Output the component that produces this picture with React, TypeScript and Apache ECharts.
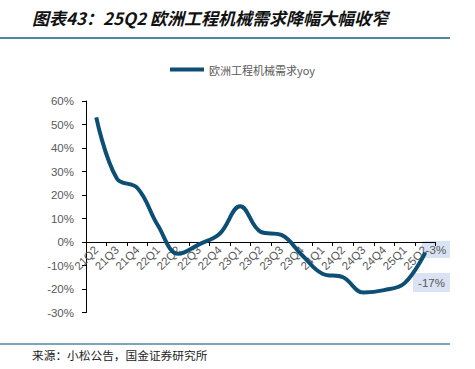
import React, { useEffect, useRef } from "react";
import * as echarts from "echarts";

const categories = ["21Q2","21Q3","21Q4","22Q1","22Q2","22Q3","22Q4","23Q1","23Q2","23Q3","23Q4","24Q1","24Q2","24Q3","24Q4","25Q1","25Q2"];
const yoyValues = [53, 27, 23, 7, -5, -1, 3.5, 15.2, 4.3, 3, -5.5, -13.5, -15, -21.5, -20.5, -17.5, -4.5];
const seriesName = "欧洲工程机械需求yoy";
const titleText = "图表43：25Q2 欧洲工程机械需求降幅大幅收窄";
const sourceText = "来源：小松公告，国金证券研究所";
const annotations = ["-3%", "-17%"];

export default function App() {
  const ref = useRef<HTMLDivElement>(null);
  useEffect(() => {
    document.body.style.margin = "0";
    const chart = echarts.init(ref.current!, null, { renderer: "svg" });
    const gray = "#595959";
    const font = "Liberation Sans, Arial, sans-serif";
    chart.setOption({
      animation: false,
      grid: { left: 86, right: 39.5, top: 101, bottom: 56.5, containLabel: false },
      legend: {
        data: [seriesName],
        top: 64,
        left: 170,
        padding: 0,
        itemWidth: 34,
        itemHeight: 14,
        itemGap: 4,
        icon: "path://M0,0 L34,0 L34,4 L0,4 Z",
        textStyle: { color: gray, fontSize: 11, fontFamily: "Noto Sans CJK SC, sans-serif" },
      },
      xAxis: {
        type: "category",
        data: categories,
        boundaryGap: true,
        position: "bottom",
        offset: -70.5,
        axisLine: { onZero: false, lineStyle: { color: "#000", width: 1 } },
        axisTick: { show: true, length: 4, lineStyle: { color: "#000" } },
        axisLabel: { rotate: 45, interval: 0, color: gray, fontSize: 11.5, fontFamily: font, margin: 6 },
      },
      yAxis: {
        type: "value",
        min: -30,
        max: 60,
        interval: 10,
        splitLine: { show: false },
        axisLine: { show: true, lineStyle: { color: "#000", width: 1 } },
        axisTick: { show: true, length: 4, lineStyle: { color: "#000" } },
        axisLabel: { formatter: "{value}%", color: gray, fontSize: 11.5, fontFamily: font, margin: 12 },
      },
      series: [
        {
          name: seriesName,
          type: "line",
          data: yoyValues,
          smooth: 0.4,
          symbol: "none",
          lineStyle: { color: "#0d4f74", width: 4 },
          itemStyle: { color: "#0d4f74" },
        },
      ],
      graphic: [
        {
          type: "text",
          left: 32,
          top: 9,
          style: {
            text: titleText,
            fontSize: 17,
            fontWeight: "bold",
            fontStyle: "italic",
            fill: "#111",
            fontFamily: "Noto Sans CJK SC, sans-serif",
          },
        },
        { type: "line", shape: { x1: 0, y1: 38, x2: 450, y2: 38 }, style: { stroke: "#4f86a6", lineWidth: 2 } },
        { type: "line", shape: { x1: 0, y1: 344, x2: 450, y2: 344 }, style: { stroke: "#4f86a6", lineWidth: 1.5 } },
        {
          type: "text",
          left: 32,
          top: 349,
          style: { text: sourceText, fontSize: 11.7, fill: "#222", fontFamily: "Noto Sans CJK SC, sans-serif" },
        },
        { type: "rect", shape: { x: 422, y: 241, width: 28, height: 17 }, style: { fill: "#dae3f3" } },
        {
          type: "text",
          x: 436,
          y: 249.5,
          style: { text: annotations[0], fontSize: 11.5, fill: gray, align: "center", verticalAlign: "middle", fontFamily: font },
        },
        { type: "rect", shape: { x: 413, y: 273, width: 37, height: 19 }, style: { fill: "#dae3f3" } },
        {
          type: "text",
          x: 431.5,
          y: 282.5,
          style: { text: annotations[1], fontSize: 11.5, fill: gray, align: "center", verticalAlign: "middle", fontFamily: font },
        },
      ],
    });
    return () => chart.dispose();
  }, []);
  return <div ref={ref} style={{ width: 475, height: 369 }} />;
}
